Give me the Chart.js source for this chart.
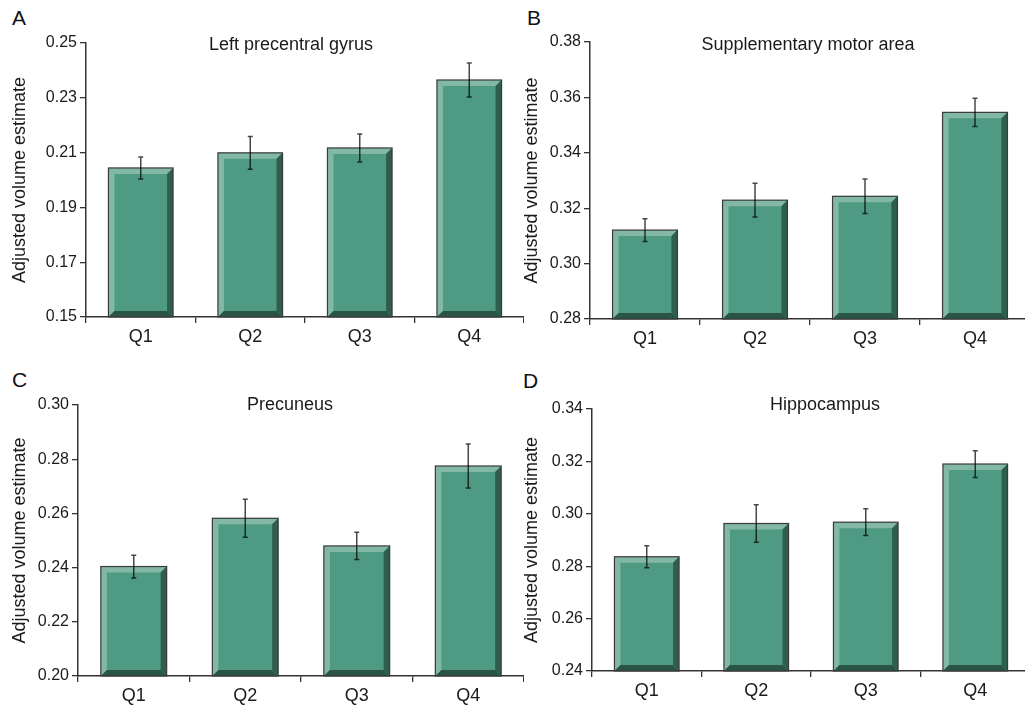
<!DOCTYPE html>
<html>
<head>
<meta charset="utf-8">
<script src="https://cdn.jsdelivr.net/npm/chart.js@4/dist/chart.umd.min.js"></script>
<style>
  html, body { margin: 0; padding: 0; background: #fff; overflow: hidden; }
  body { width: 1025px; height: 706px; position: relative; font-family: "Liberation Sans", Arial, sans-serif; }
  canvas { position: absolute; }
  .tag { position: absolute; font-size: 21px; color: #111; line-height: 1; }
</style>
</head>
<body>
<div class="tag" style="left:12px;top:7px">A</div>
<div class="tag" style="left:527px;top:7px">B</div>
<div class="tag" style="left:12px;top:369px">C</div>
<div class="tag" style="left:523px;top:370px">D</div>
<canvas id="chartA" width="524" height="353" style="left:0;top:0"></canvas>
<canvas id="chartB" width="518" height="353" style="left:512px;top:0"></canvas>
<canvas id="chartC" width="524" height="353" style="left:0;top:353px"></canvas>
<canvas id="chartD" width="518" height="353" style="left:512px;top:353px"></canvas>
<script>
// ---- data ----
const categories = ['Q1', 'Q2', 'Q3', 'Q4'];

const precentralMean = [0.2044, 0.2099, 0.2117, 0.2365];
const precentralErr  = [0.0040, 0.0060, 0.0051, 0.0062];
const precentralTicks = { min: 0.15, max: 0.25, step: 0.02 };

const smaMean = [0.3121, 0.3229, 0.3243, 0.3546];
const smaErr  = [0.0041, 0.0061, 0.0062, 0.0051];
const smaTicks = { min: 0.28, max: 0.38, step: 0.02 };

const precuneusMean = [0.2404, 0.2582, 0.2480, 0.2775];
const precuneusErr  = [0.0042, 0.0070, 0.0050, 0.0081];
const precuneusTicks = { min: 0.20, max: 0.30, step: 0.02 };

const hippoMean = [0.2836, 0.2963, 0.2968, 0.3190];
const hippoErr  = [0.0042, 0.0072, 0.0051, 0.0051];
const hippoTicks = { min: 0.24, max: 0.34, step: 0.02 };

// ---- colours ----
const FACE = '#4e9a82';
const LIGHT = '#83b9a4';
const DARK_R = '#2f5f4c';
const DARK_B = '#2a5444';
const AXIS = '#333333';
const TEXT = '#1a1a1a';

// bevel + outline + error bars, drawn on top of the plain bars
const bevelBars = {
    id: 'bevelBars',
    afterDatasetsDraw(chart, args, opts) {
        const ctx = chart.ctx;
        const meta = chart.getDatasetMeta(0);
        const yScale = chart.scales.y;
        const b = 6;
        meta.data.forEach((bar, i) => {
            const l = bar.x - bar.width / 2, r = bar.x + bar.width / 2;
            const t = bar.y, bot = Math.min(bar.base, chart.chartArea.bottom);
            const poly = (pts, col) => {
                ctx.beginPath();
                ctx.moveTo(pts[0][0], pts[0][1]);
                pts.slice(1).forEach(p => ctx.lineTo(p[0], p[1]));
                ctx.closePath();
                ctx.fillStyle = col;
                ctx.fill();
            };
            ctx.save();
            poly([[l, t], [r, t], [r - b, t + b], [l + b, t + b]], LIGHT);
            poly([[l, t], [l + b, t + b], [l + b, bot - b], [l, bot]], LIGHT);
            poly([[r, t], [r, bot], [r - b, bot - b], [r - b, t + b]], DARK_R);
            poly([[l, bot], [r, bot], [r - b, bot - b], [l + b, bot - b]], DARK_B);
            ctx.strokeStyle = '#3a3a3a';
            ctx.lineWidth = 1.2;
            ctx.strokeRect(l, t, r - l, bot - t);

            // error bar
            const mean = chart.data.datasets[0].data[i];
            const e = opts.errors[i];
            const yHi = yScale.getPixelForValue(mean + e);
            const yLo = yScale.getPixelForValue(mean - e);
            ctx.strokeStyle = 'rgba(0,0,0,0.72)';
            ctx.lineWidth = 1.5;
            ctx.beginPath();
            ctx.moveTo(bar.x, yHi); ctx.lineTo(bar.x, yLo);
            ctx.moveTo(bar.x - 2.5, yHi); ctx.lineTo(bar.x + 2.5, yHi);
            ctx.moveTo(bar.x - 2.5, yLo); ctx.lineTo(bar.x + 2.5, yLo);
            ctx.stroke();
            ctx.restore();
        });
    }
};

// panel title inside the plot area
const panelTitle = {
    id: 'panelTitle',
    afterDraw(chart, args, opts) {
        const ctx = chart.ctx;
        ctx.save();
        ctx.font = '18px "Liberation Sans", Arial, sans-serif';
        ctx.fillStyle = TEXT;
        ctx.textAlign = 'center';
        ctx.textBaseline = 'middle';
        ctx.fillText(opts.text, opts.x, opts.y);
        ctx.restore();
    }
};

function makePanel(id, title, means, errs, ticks, lay) {
    const ctx = document.getElementById(id);
    return new Chart(ctx.getContext('2d'), {
        type: 'bar',
        data: {
            labels: categories,
            datasets: [{
                data: means,
                backgroundColor: FACE,
                borderWidth: 0,
                categoryPercentage: 1,
                barPercentage: 0.59
            }]
        },
        options: {
            responsive: false,
            animation: false,
            events: [],
            layout: { padding: { top: lay.top, left: 0, right: 0, bottom: 0 } },
            plugins: {
                legend: { display: false },
                tooltip: { enabled: false },
                bevelBars: { errors: errs },
                panelTitle: { text: title, x: lay.titleX, y: lay.titleY }
            },
            scales: {
                x: {
                    offset: true,
                    grid: { offset: true, drawOnChartArea: false, drawTicks: true, tickLength: 6, color: AXIS, lineWidth: 1.3 },
                    border: { display: true, color: AXIS, width: 1.5 },
                    ticks: { color: TEXT, padding: 3, font: { size: 18, family: '"Liberation Sans", Arial' } },
                    afterFit: s => { s.height = lay.xh; }
                },
                y: {
                    min: ticks.min,
                    max: ticks.max,
                    grid: { drawOnChartArea: false, drawTicks: true, tickLength: 6, color: AXIS, lineWidth: 1.3 },
                    border: { display: true, color: AXIS, width: 1.5 },
                    ticks: {
                        stepSize: ticks.step,
                        color: TEXT,
                        padding: 3,
                        font: { size: 16, family: '"Liberation Sans", Arial' },
                        callback: v => Number(v).toFixed(2)
                    },
                    title: {
                        display: true,
                        text: 'Adjusted volume estimate',
                        color: TEXT,
                        padding: { top: 9, bottom: 0 },
                        font: { size: 18, family: '"Liberation Sans", Arial' }
                    },
                    afterFit: s => { s.width = lay.yw; }
                }
            }
        },
        plugins: [bevelBars, panelTitle]
    });
}

makePanel('chartA', 'Left precentral gyrus', precentralMean, precentralErr, precentralTicks,
    { top: 43, xh: 36, yw: 86, titleX: 291, titleY: 45 });
makePanel('chartB', 'Supplementary motor area', smaMean, smaErr, smaTicks,
    { top: 42, xh: 34, yw: 78, titleX: 296, titleY: 45 });
makePanel('chartC', 'Precuneus', precuneusMean, precuneusErr, precuneusTicks,
    { top: 52, xh: 30, yw: 78, titleX: 290, titleY: 52 });
makePanel('chartD', 'Hippocampus', hippoMean, hippoErr, hippoTicks,
    { top: 56, xh: 35, yw: 80, titleX: 313, titleY: 52 });
</script>
</body>
</html>
